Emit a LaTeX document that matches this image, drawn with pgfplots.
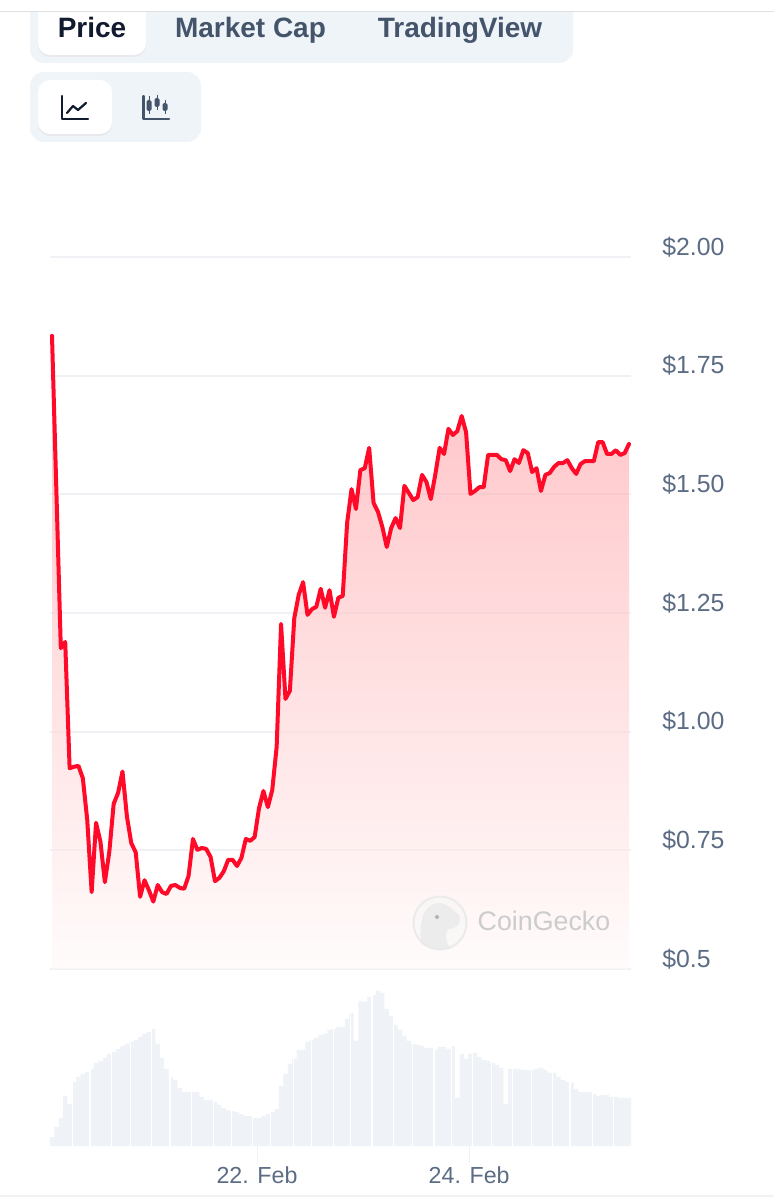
\documentclass[border=0pt]{standalone}
\usepackage{fontspec}
\setmainfont{Liberation Sans}
\usepackage{pgfplots}
\usepackage{pgfplotstable}
\pgfplotsset{compat=1.18}
\definecolor{tabbg}{RGB}{239,244,249}
\definecolor{gridc}{RGB}{239,241,245}
\definecolor{barc}{RGB}{239,242,246}
\definecolor{slate}{RGB}{92,108,132}
\definecolor{tabtxt}{RGB}{68,84,106}
\definecolor{dark}{RGB}{17,26,46}
\definecolor{linered}{RGB}{255,10,40}
\definecolor{fillred}{RGB}{255,155,160}
\definecolor{fillend}{RGB}{255,250,250}
\pgfplotstableread{
i price vol
0 1.834 9
1 1.505 19
2 1.176 28
3 1.189 50
4 0.923 42
5 0.926 64
6 0.928 69
7 0.902 72
8 0.814 74
9 0.662 77
10 0.808 83
11 0.768 85
12 0.683 88
13 0.746 92
14 0.848 94
15 0.871 97
16 0.916 100
17 0.822 102
18 0.765 104
19 0.746 106
20 0.652 109
21 0.687 112
22 0.666 114
23 0.642 117
24 0.677 102
25 0.662 88
26 0.658 77
27 0.675 69
28 0.677 66
29 0.671 58
30 0.669 54
31 0.696 54
32 0.774 54
33 0.751 54
34 0.755 49
35 0.753 46
36 0.736 46
37 0.685 44
38 0.692 41
39 0.706 38
40 0.730 36
41 0.730 35
42 0.717 34
43 0.734 32
44 0.774 30
45 0.770 30
46 0.778 28
47 0.839 28
48 0.875 30
49 0.841 32
50 0.877 34
51 0.968 37
52 1.227 60
53 1.069 72
54 1.086 82
55 1.239 87
56 1.288 96
57 1.315 96
58 1.246 104
59 1.258 106
60 1.263 108
61 1.301 111
62 1.261 112
63 1.298 116
64 1.242 117
65 1.282 119
66 1.286 119
67 1.440 127
68 1.511 133
69 1.469 105
70 1.551 145
71 1.555 144
72 1.598 149
73 1.482 151
74 1.463 155
75 1.431 153
76 1.389 137
77 1.429 130
78 1.450 121
79 1.429 116
80 1.518 110
81 1.503 105
82 1.488 102
83 1.494 101
84 1.541 100
85 1.526 98
86 1.490 98
87 1.541 96
88 1.598 99
89 1.585 99
90 1.638 97
91 1.625 100
92 1.633 48
93 1.665 92
94 1.631 87
95 1.501 92
96 1.507 93
97 1.515 89
98 1.515 86
99 1.583 85
100 1.583 83
101 1.583 81
102 1.574 78
103 1.572 42
104 1.549 77
105 1.574 77
106 1.566 77
107 1.593 76
108 1.587 76
109 1.547 76
110 1.555 77
111 1.507 78
112 1.541 76
113 1.545 73
114 1.558 73
115 1.566 69
116 1.566 66
117 1.572 64
118 1.555 63
119 1.543 57
120 1.564 54
121 1.570 54
122 1.570 54
123 1.570 52
124 1.610 50
125 1.610 51
126 1.585 51
127 1.585 49
128 1.593 49
129 1.583 48
130 1.587 48
131 1.606 48
}\datatable
\begin{document}
\begin{tikzpicture}
\path[use as bounding box,fill=white] (0,0) rectangle (387pt,600pt);
% volume bars
\begin{axis}[
  at={(25pt,27pt)},anchor=south west,scale only axis,width=290.5pt,height=78pt,
  xmin=-0.454,xmax=131.44,ymin=0,ymax=156,
  axis line style={draw=none},axis on top,
  ytick=\empty,xtick={46.54,94.7},xticklabels={22. Feb,24. Feb},
  minor xtick={4.61,8.63,13.55,17.87,22.63,26.79,31.71,36.62,40.79,45.47,49.65,54.78,58.96,63.86,67.81,72.64,77.48,81.88,86.72,90.74,95.5,99.82,104.58,108.9,113.58,117.6,122.65,127.42},
  xminorgrids,minor grid style={draw=white,line width=0.55pt},minor tick length=0pt,
  xtick pos=bottom,tick align=outside,major tick length=8.5pt,
  tick style={draw=gridc,line width=0.5pt},
  xticklabel style={text=slate,font=\fontsize{11.6pt}{13pt}\selectfont,yshift=1.5pt},
  clip=false]
\addplot[ybar,bar width=2.1pt,bar shift=0pt,fill=barc,draw=none] table[x=i,y=vol]{\datatable};
\end{axis}
% price
\begin{axis}[
  at={(25pt,115.5pt)},anchor=south west,scale only axis,width=290.5pt,height=356pt,
  xmin=-0.454,xmax=131.44,ymin=0.5,ymax=2,
  axis line style={draw=none},
  xtick=\empty,
  ytick={0.5,0.75,1,1.25,1.5,1.75,2},
  yticklabels={\$0.5,\$0.75,\$1.00,\$1.25,\$1.50,\$1.75,\$2.00},
  ytick pos=right,major tick length=0pt,tick style={draw=none},
  yticklabel style={text=slate,anchor=west,inner sep=0pt,xshift=15.5pt,yshift=5pt,
    font=\fontsize{12.4pt}{14pt}\selectfont},
  ymajorgrids,grid style={draw=gridc,line width=1pt}]
\addplot[draw=none,top color=fillred,bottom color=fillend,opacity=0.62] table[x=i,y=price]{\datatable} \closedcycle;
\addplot[linered,line width=2pt,line join=round,line cap=round] table[x=i,y=price]{\datatable};
\end{axis}
% interface elements, in pixels of the reference
\begin{scope}[shift={(0,600pt)},x=0.5pt,y=-0.5pt]
\fill[tabbg,rounded corners=7pt] (30,-10) rectangle (573,63);
\fill[white] (0,0) rectangle (774,11);
\fill[black!12,opacity=0.5,rounded corners=6pt] (38,5) rectangle (146,57);
\fill[white,rounded corners=6pt] (38,0) rectangle (146,55);
\fill[white] (0,0) rectangle (774,11);
\draw[black!12,line width=0.6pt] (0,11.5) -- (774,11.5);
\node[anchor=base,text=dark,inner sep=0pt,font=\fontsize{14pt}{16pt}\bfseries\selectfont] at (92,38) {Price};
\node[anchor=base,text=tabtxt,inner sep=0pt,font=\fontsize{14pt}{16pt}\bfseries\selectfont] at (250.5,38) {Market Cap};
\node[anchor=base,text=tabtxt,inner sep=0pt,font=\fontsize{14pt}{16pt}\bfseries\selectfont] at (460,38) {TradingView};
\fill[tabbg,rounded corners=7pt] (30,72) rectangle (201,142);
\fill[black!12,opacity=0.5,rounded corners=6pt] (38,82) rectangle (112,136);
\fill[white,rounded corners=6pt] (38,80) rectangle (112,134);
% line icon
\draw[dark,line width=1.1pt,line cap=round,line join=round] (62,96) -- (62,119) -- (88,119);
\draw[dark,line width=1.1pt,line cap=round,line join=round] (67,113) -- (73,106) -- (78,110) -- (86,103);
% candle icon
\draw[tabtxt,line width=1.1pt,line cap=round,line join=round] (143.5,96) -- (143.5,119) -- (169,119);
\foreach \cx/\ta/\ba/\tb/\bb in {149/96/114/100/111,157/95/110/98/107,165/100/114/103/111}{
  \draw[tabtxt,line width=0.5pt] (\cx,\ta) -- (\cx,\ba);
  \fill[tabtxt,rounded corners=0.8pt] (\cx-2.5,\tb) rectangle (\cx+2.5,\bb);
}
% watermark
\draw[black!8,line width=1pt,fill=black!3,fill opacity=0.6] (440,923) circle (26.5);
\fill[black!9,opacity=0.7] (421,943) .. controls (419,925) and (422,905) .. (438,903)
  .. controls (448,903) and (452,910) .. (459,915) .. controls (462,922) and (458,928) .. (449,929)
  .. controls (444,932) and (446,944) .. (450,947) .. controls (442,950) and (430,950) .. (421,943) -- cycle;
\fill[black!30] (437,917) circle (2);
\node[anchor=base,text=black!20,inner sep=0pt,font=\fontsize{13.4pt}{14pt}\selectfont] at (544,931) {CoinGecko};
\fill[black!5] (0,1195) rectangle (774,1197);
\end{scope}
\end{tikzpicture}
\end{document}
